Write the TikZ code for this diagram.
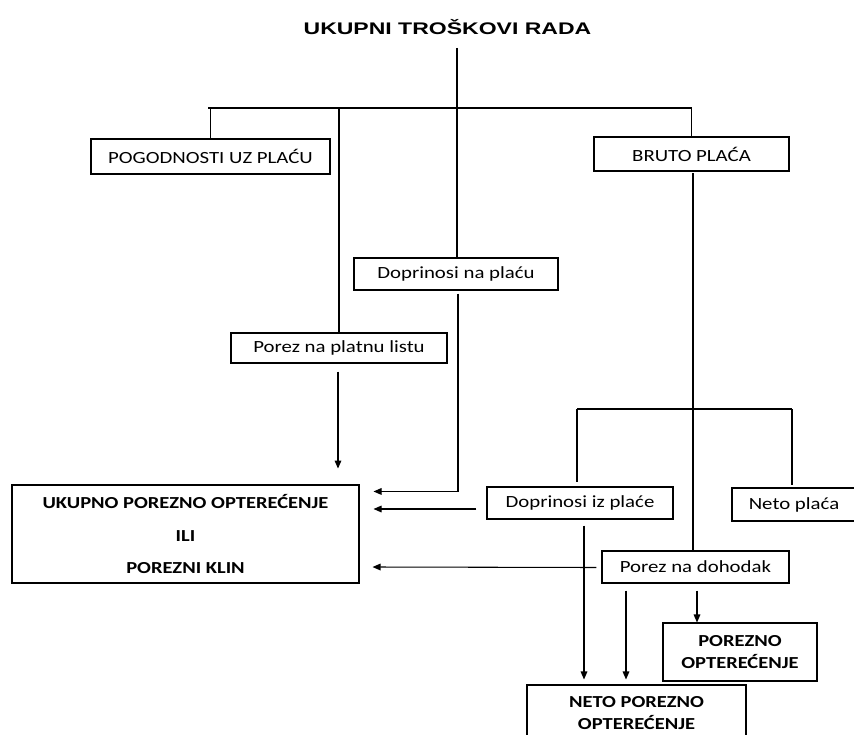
\documentclass[tikz,border=0pt]{standalone}
\usepackage{fontspec}
\setmainfont{Carlito}[FakeStretch=1.22]
\newfontfamily\titlefont{Liberation Sans}[FakeStretch=1.37]
\usetikzlibrary{arrows.meta,calc}
\begin{document}
\begin{tikzpicture}[x=0.75pt,y=-0.75pt,
  box/.style={draw, line width=0.8pt, inner sep=0pt, align=center,
    font=\fontsize{12.8}{15}\selectfont},
  bbox/.style={box, font=\fontsize{12.6}{16.5}\selectfont\bfseries},
  sz/.style 2 args={minimum width=#1*0.75pt, minimum height=#2*0.75pt},
  conn/.style={line width=0.8pt},
  arr/.style={conn, -{Triangle[width=5pt,length=6pt]}}]
\useasboundingbox (0,0) rectangle (854,735);

% title
\node[font=\titlefont\bfseries\fontsize{12.6}{14}\selectfont] (title) at (447.5,27) {UKUPNI TROŠKOVI RADA};

% boxes
\node[box, sz={239}{35}] (pog) at (210.5,156.5) {POGODNOSTI UZ PLAĆU};
\node[box, sz={195}{34}] (bruto) at (691.5,154) {BRUTO PLAĆA};
\node[box, sz={204}{32}] (dnp) at (456,274) {Doprinosi na plaću};
\node[box, sz={216}{30}] (ppl) at (339,348) {Porez na platnu listu};
\node[bbox, sz={347}{98}, font=\fontsize{12.6}{24.4}\selectfont\bfseries] (ukupno) at (185.5,534)
  {UKUPNO POREZNO OPTEREĆENJE\\ILI\\POREZNI KLIN};
\node[box, sz={186}{32}] (dip) at (580,503) {Doprinosi iz plaće};
\node[box, sz={124}{33}] (neto) at (794,504.5) {Neto plaća};
\node[box, sz={187}{32}] (pnd) at (695.5,567) {Porez na dohodak};
\node[bbox, sz={154}{58}] (po) at (740,652) {POREZNO\\OPTEREĆENJE};
\node[bbox, sz={219}{57}] (npo) at (636.5,713.5) {NETO POREZNO\\OPTEREĆENJE};

% top tree
\coordinate (t1) at (457,48);
\coordinate (b1L) at (208,108);
\coordinate (b1R) at (691.5,108);
\draw[conn] (t1) -- (t1 |- dnp.north);
\draw[conn] (b1L) -- (b1R);
\draw[conn] (pog.north |- b1L) -- (pog.north);
\draw[conn] (ppl.north |- b1L) -- (ppl.north);
\draw[conn] (bruto.north |- b1R) -- (bruto.north);

% bruto subtree
\coordinate (v2) at (693,173);
\coordinate (b2L) at (577,409);
\coordinate (b2R) at (792,409);
\draw[conn] (v2) -- (v2 |- pnd.north);
\draw[conn] (b2L) -- (b2R);
\draw[conn] (b2L) -- ($(b2L |- dip.north)+(0,-4)$);
\draw[conn] (b2R) -- ($(b2R |- neto.north)+(0,-2)$);

% arrows to UKUPNO
\draw[arr] ($(dnp.south)+(2,3)$) |- ($(ukupno.north east)+(14,7)$);
\draw[arr] ($(ppl.south)+(-1,8)$) -- ($(ppl.south)+(-1,105)$);
\draw[arr] ($(dip.west)+(-10,6)$) -- ($(ukupno.east)+(14,-25)$);
\draw[arr] ($(pnd.west)+(-5,0.5)$) -- ($(ukupno.east)+(13,33)$);

% arrows down
\draw[arr] ($(dip.south)+(4,6)$) -- ($(dip.south |- npo.north)+(4,-5)$);
\draw[arr] ($(pnd.south)+(-69.5,7)$) -- ($(pnd.south |- npo.north)+(-69.5,-5)$);
\draw[arr] ($(pnd.south)+(1.5,7)$) -- ($(pnd.south |- po.north)+(1.5,0)$);
\end{tikzpicture}
\end{document}
